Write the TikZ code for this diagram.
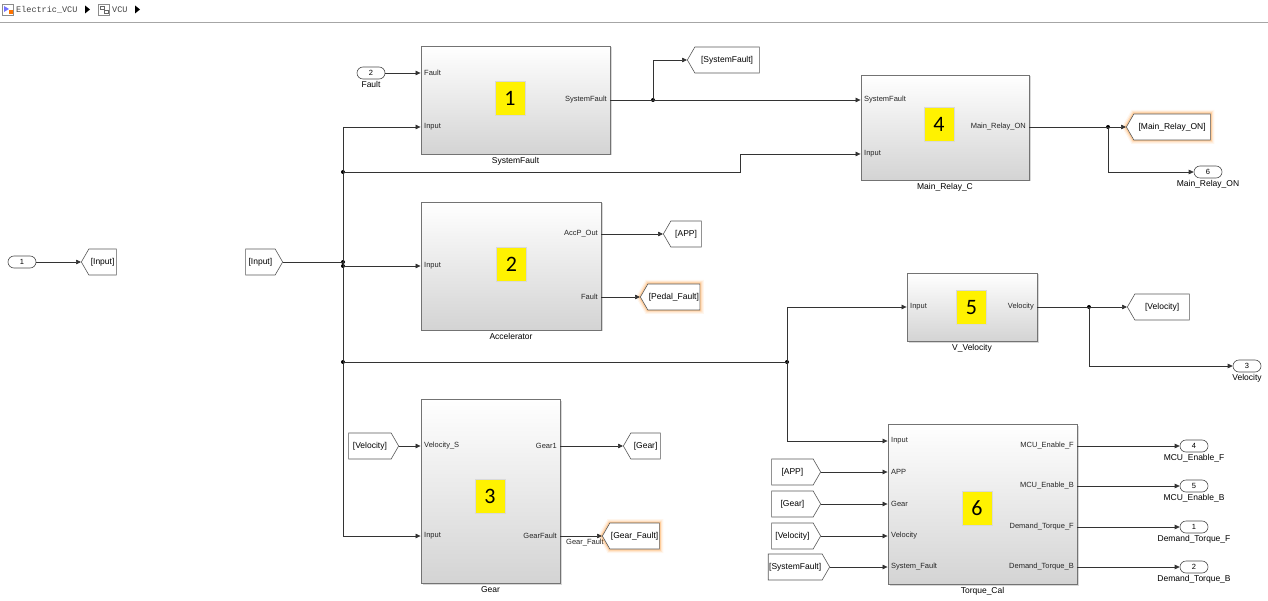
\documentclass[tikz,border=0pt]{standalone}
\usepackage{fontspec}
\setmainfont{Liberation Sans}
\newfontfamily\numfont{Carlito}
\newfontfamily\crumbfont{Liberation Mono}
\usetikzlibrary{shapes.symbols,shapes.misc,shadows,arrows.meta,positioning}
\tikzset{
  sig/.style={draw=black!80, line width=0.65pt, -{Triangle[length=5pt,width=4.5pt]}},
  wire/.style={draw=black!80, line width=0.65pt},
  blk/.style={rectangle, draw=black!55, line width=0.9pt, top color=white, bottom color=black!17, inner sep=0pt,
    drop shadow={shadow xshift=1.5pt, shadow yshift=-1.5pt, opacity=0.3}},
  bname/.style={font=\fontsize{8.5}{10}\selectfont, inner sep=1pt},
  ybox/.style={rectangle, fill=yellow, draw=black!15, minimum width=30pt, minimum height=34pt, inner sep=0pt,
    font=\numfont\fontsize{22}{22}\selectfont},
  pin/.style={font=\fontsize{7.5}{9}\selectfont, inner sep=0pt, anchor=west, text=black!85},
  pout/.style={font=\fontsize{7.5}{9}\selectfont, inner sep=0pt, anchor=east, text=black!85},
  tagbase/.style={signal, draw=black!65, fill=white, line width=0.6pt, minimum height=26pt, inner sep=1pt,
    signal pointer angle=120, font=\fontsize{8.5}{10}\selectfont},
  gototag/.style={tagbase, signal to=west, anchor=west, minimum width=#1},
  fromtag/.style={tagbase, signal to=east, anchor=east, minimum width=#1},
  glow/.style={preaction={draw=orange, line width=8pt, opacity=0.07},
    preaction={draw=orange, line width=5.5pt, opacity=0.12},
    preaction={draw=orange, line width=3pt, opacity=0.25}},
  port/.style={rounded rectangle, draw=black!70, line width=0.6pt, fill=white, minimum width=28pt,
    minimum height=12pt, inner sep=0pt, font=\fontsize{7.5}{9}\selectfont},
  plab/.style={font=\fontsize{8.5}{10}\selectfont, inner sep=0pt},
  jdot/.style={circle, fill=black, inner sep=0pt, minimum size=4pt},
}
\begin{document}
\begin{tikzpicture}[x=1pt,y=-1pt]
\fill[white] (0,0) rectangle (1268,601);
\useasboundingbox (0,0) rectangle (1268,601);

% header
\node[draw=black!45, fill=white, minimum size=11pt, inner sep=0pt] (ic1) at (8,9.5) {};
\fill[blue!55] (4,6) -- (9,9) -- (4,12) -- cycle;
\fill[orange!90!red] (9,10) rectangle (13,14);
\node[anchor=west, font=\crumbfont\fontsize{8.5}{10}\selectfont, text=black!75, inner sep=0pt] (t1) at (16,9.5) {Electric\_VCU};
\fill[black] (85,5.5) -- (90,9.5) -- (85,13.5) -- cycle;
\node[draw=black!45, fill=white, minimum size=11pt, inner sep=0pt] (ic2) at (104,9.5) {};
\draw[black!60] (100,6) rectangle (104,9) (104,10) rectangle (108,13);
\node[anchor=west, font=\crumbfont\fontsize{8.5}{10}\selectfont, text=black!75, inner sep=0pt] (t2) at (112,9.5) {VCU};
\fill[black] (135,5.5) -- (140,9.5) -- (135,13.5) -- cycle;
\draw[black!35, line width=1pt] (0,22.5) -- (1268,22.5);

% blocks
\node[blk, minimum width=189pt, minimum height=108pt] (B1) at (515.5,100) {};
\node[blk, minimum width=168pt, minimum height=105pt] (B4) at (945,127.5) {};
\node[blk, minimum width=180pt, minimum height=128pt] (B2) at (511,266) {};
\node[blk, minimum width=130pt, minimum height=68pt] (B5) at (972,307) {};
\node[blk, minimum width=139pt, minimum height=184pt] (B3) at (490.5,491) {};
\node[blk, minimum width=189pt, minimum height=160pt] (B6) at (982.5,504) {};

\node[bname, below=2pt of B1.south] (B1n) {SystemFault};
\node[bname, below=2pt of B4.south] (B4n) {Main\_Relay\_C};
\node[bname, below=2pt of B2.south] (B2n) {Accelerator};
\node[bname, below=2pt of B5.south] (B5n) {V\_Velocity};
\node[bname, below=2pt of B3.south] (B3n) {Gear};
\node[bname, below=2pt of B6.south] (B6n) {Torque\_Cal};

\node[ybox] (Y1) at (510,98) {1};
\node[ybox] (Y4) at (939,124) {4};
\node[ybox] (Y2) at (511.5,264.5) {2};
\node[ybox] (Y5) at (971.5,307.5) {5};
\node[ybox] (Y3) at (490,496.5) {3};
\node[ybox] (Y6) at (977,508) {6};

% port labels
\node[pin] (B1pF) at (424,73) {Fault};
\node[pin] (B1pI) at (424,127) {Input};
\node[pout] (B1pO) at (607,100) {SystemFault};
\node[pin] (B4pS) at (864,100) {SystemFault};
\node[pin] (B4pI) at (864,154) {Input};
\node[pout] (B4pO) at (1026,127) {Main\_Relay\_ON};
\node[pin] (B2pI) at (424,266) {Input};
\node[pout] (B2pA) at (598,234) {AccP\_Out};
\node[pout] (B2pF) at (598,297) {Fault};
\node[pin] (B5pI) at (910,307) {Input};
\node[pout] (B5pO) at (1034,307) {Velocity};
\node[pin] (B3pV) at (424,446) {Velocity\_S};
\node[pin] (B3pI) at (424,536) {Input};
\node[pout] (B3pG) at (557,446) {Gear1};
\node[pout] (B3pF) at (557,536) {GearFault};
\node[pin] (B6pI) at (891,441) {Input};
\node[pin] (B6pA) at (891,472) {APP};
\node[pin] (B6pG) at (891,504) {Gear};
\node[pin] (B6pV) at (891,536) {Velocity};
\node[pin] (B6pS) at (891,567) {System\_Fault};
\node[pout] (B6pO1) at (1074,446) {MCU\_Enable\_F};
\node[pout] (B6pO2) at (1074,486) {MCU\_Enable\_B};
\node[pout] (B6pO3) at (1074,527) {Demand\_Torque\_F};
\node[pout] (B6pO4) at (1074,567) {Demand\_Torque\_B};

% signal label under Gear fault line (partly hidden by tag)
\node[pin] (lGF) at (566,543) {Gear\_Fault};

% tags
\node[gototag=35pt] (gIn) at (81,262) {[Input]};
\node[gototag=72pt] (gSF) at (687,60) {[SystemFault]};
\node[gototag=84pt, glow] (gMR) at (1126,127) {[Main\_Relay\_ON]};
\node[gototag=38pt] (gAPP) at (663,234) {[APP]};
\node[gototag=59pt, glow] (gPF) at (640,297) {[Pedal\_Fault]};
\node[gototag=62pt] (gVel) at (1127,307) {[Velocity]};
\node[gototag=37pt] (gGear) at (623,446) {[Gear]};
\node[gototag=57pt, glow] (gGF) at (602,536) {[Gear\_Fault]};
\node[fromtag=37pt] (fIn) at (283,262) {[Input]};
\node[fromtag=50pt] (fVel) at (399,446) {[Velocity]};
\node[fromtag=49pt] (fAPP) at (821,472) {[APP]};
\node[fromtag=49pt] (fGear) at (821,504) {[Gear]};
\node[fromtag=49pt] (fVel2) at (821,536) {[Velocity]};
\node[fromtag=58pt] (fSF) at (830,567) {[SystemFault]};

% ports
\node[port] (in1) at (22,262) {1};
\node[port] (in2) at (371,73) {2};
\node[plab, below=2pt of in2.south] (in2l) {Fault};
\node[port] (out6) at (1208,172) {6};
\node[plab, below=2pt of out6.south] (out6l) {Main\_Relay\_ON};
\node[port] (out3) at (1247,366) {3};
\node[plab, below=2pt of out3.south] (out3l) {Velocity};
\node[port] (out4) at (1194,446) {4};
\node[plab, below=2pt of out4.south] (out4l) {MCU\_Enable\_F};
\node[port] (out5) at (1194,486) {5};
\node[plab, below=2pt of out5.south] (out5l) {MCU\_Enable\_B};
\node[port] (out1) at (1194,527) {1};
\node[plab, below=2pt of out1.south] (out1l) {Demand\_Torque\_F};
\node[port] (out2) at (1194,567) {2};
\node[plab, below=2pt of out2.south] (out2l) {Demand\_Torque\_B};

% junctions and bends
\coordinate (bTop) at (343,127);
\coordinate (bBot) at (343,536);
\node[jdot] (jA) at (343,172) {};
\node[jdot] (jD) at (343,262) {};
\node[jdot] (jE) at (343,266) {};
\node[jdot] (jF) at (343,362) {};
\node[jdot] (jG) at (787,362) {};
\node[jdot] (jB) at (653,100) {};
\node[jdot] (jC) at (1108,127) {};
\node[jdot] (jH) at (1089,307) {};
\coordinate (kA) at (740,172);

% connectors
\draw[sig] (in1.east) -- (gIn.west);
\draw[sig] (in2.east) -- (B1.west |- B1pF);
\draw[wire] (fIn.east) -- (jD.center);
\draw[wire] (bTop) -- (bBot);
\draw[sig] (bTop) -- (B1.west |- B1pI);
\draw[sig] (bBot) -- (B3.west |- B3pI);
\draw[sig] (jA.center) -- (kA) |- (B4.west |- B4pI);
\draw[sig] (jE.center) -- (B2.west |- B2pI);
\draw[wire] (jF.center) -- (jG.center);
\draw[sig] (jG.center) |- (B5.west |- B5pI);
\draw[sig] (jG.center) |- (B6.west |- B6pI);
\draw[sig] (B1.east |- B1pO) -- (B4.west |- B4pS);
\draw[sig] (jB.center) |- (gSF.west);
\draw[sig] (B4.east |- B4pO) -- (gMR.west);
\draw[sig] (jC.center) |- (out6.west);
\draw[sig] (B2.east |- B2pA) -- (gAPP.west);
\draw[sig] (B2.east |- B2pF) -- (gPF.west);
\draw[sig] (B5.east |- B5pO) -- (gVel.west);
\draw[sig] (jH.center) |- (out3.west);
\draw[sig] (fVel.east) -- (B3.west |- B3pV);
\draw[sig] (B3.east |- B3pG) -- (gGear.west);
\draw[sig] (B3.east |- B3pF) -- (gGF.west);
\draw[sig] (fAPP.east) -- (B6.west |- B6pA);
\draw[sig] (fGear.east) -- (B6.west |- B6pG);
\draw[sig] (fVel2.east) -- (B6.west |- B6pV);
\draw[sig] (fSF.east) -- (B6.west |- B6pS);
\draw[sig] (B6.east |- B6pO1) -- (out4.west);
\draw[sig] (B6.east |- B6pO2) -- (out5.west);
\draw[sig] (B6.east |- B6pO3) -- (out1.west);
\draw[sig] (B6.east |- B6pO4) -- (out2.west);
\end{tikzpicture}
\end{document}
